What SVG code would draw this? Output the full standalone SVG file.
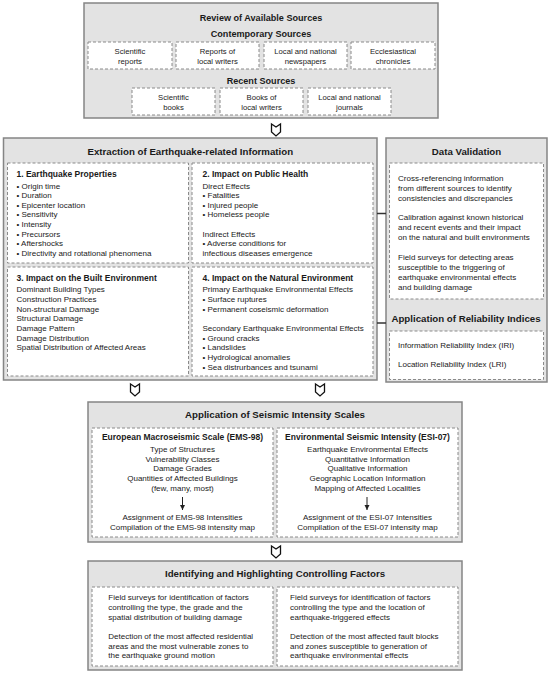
<svg xmlns="http://www.w3.org/2000/svg" width="550" height="674" viewBox="0 0 550 674">
<style>
.outer{fill:#e3e3e3;stroke:#858585;stroke-width:1.5}
.inner{fill:#ffffff;stroke:#8a8a8a;stroke-width:1;stroke-dasharray:3 2}
text{font-family:"Liberation Sans",Arial,sans-serif;fill:#1a1a1a}
.t{font-size:9.7px;font-weight:bold;text-anchor:middle}
.t9{font-size:9.1px;font-weight:bold;text-anchor:middle}
.h{font-size:8.5px;font-weight:bold}
.hc{font-size:8.5px;font-weight:bold;text-anchor:middle}
.b{font-size:8px}
.bc{font-size:8px;text-anchor:middle}
.s{font-size:7.7px;text-anchor:middle}
.conn{stroke:#333;stroke-width:1.5;fill:none}
.big{fill:#fff;stroke:#111;stroke-width:1.3;stroke-linejoin:miter}
</style>
<defs>
<path id="bigArrow" d="M-4.5,-6 L0,-3 L4.5,-6 L4.5,2 L0,6 L-4.5,2 Z"/>
<marker id="ah" markerWidth="6" markerHeight="6" refX="5" refY="3" orient="auto" markerUnits="userSpaceOnUse">
<path d="M0,0.5 L5,3 L0,5.5 Z" fill="#222"/>
</marker>
</defs>

<g id="review">
<rect class="outer" x="84" y="3" width="354" height="115"/>
<text class="t9" x="261" y="20.8">Review of Available Sources</text>
<text class="t9" x="261" y="37.4">Contemporary Sources</text>
<rect class="inner" x="88" y="42" width="84" height="27"/>
<rect class="inner" x="176" y="42" width="83" height="27"/>
<rect class="inner" x="264" y="42" width="83" height="27"/>
<rect class="inner" x="351" y="42" width="84" height="27"/>
<text class="s" x="130" y="53.8">Scientific</text><text class="s" x="130" y="63.8">reports</text>
<text class="s" x="217.5" y="53.8">Reports of</text><text class="s" x="217.5" y="63.8">local writers</text>
<text class="s" x="305.5" y="53.8">Local and national</text><text class="s" x="305.5" y="63.8">newspapers</text>
<text class="s" x="393" y="53.8">Ecclesiastical</text><text class="s" x="393" y="63.8">chronicles</text>
<text class="t9" x="261" y="84.4">Recent Sources</text>
<rect class="inner" x="132" y="88" width="83" height="27"/>
<rect class="inner" x="220" y="88" width="83" height="27"/>
<rect class="inner" x="308" y="88" width="83" height="27"/>
<text class="s" x="173.5" y="99.5">Scientific</text><text class="s" x="173.5" y="109.5">books</text>
<text class="s" x="261.5" y="99.5">Books of</text><text class="s" x="261.5" y="109.5">local writers</text>
<text class="s" x="349.5" y="99.5">Local and national</text><text class="s" x="349.5" y="109.5">journals</text>
</g>

<g id="extraction">
<rect class="outer" x="3.5" y="138" width="373.5" height="242"/>
<text class="t" x="190.3" y="154.8">Extraction of Earthquake-related Information</text>
<rect class="inner" x="7.5" y="163" width="181" height="100"/>
<rect class="inner" x="192" y="163" width="181" height="100"/>
<rect class="inner" x="7.5" y="267" width="181" height="109"/>
<rect class="inner" x="192" y="267" width="181" height="109"/>
<text class="h" x="16.5" y="177.3">1. Earthquake Properties</text>
<text class="b" x="16.5" y="188.5">• Origin time</text>
<text class="b" x="16.5" y="198.15">• Duration</text>
<text class="b" x="16.5" y="207.8">• Epicenter location</text>
<text class="b" x="16.5" y="217.45">• Sensitivity</text>
<text class="b" x="16.5" y="227.1">• Intensity</text>
<text class="b" x="16.5" y="236.75">• Precursors</text>
<text class="b" x="16.5" y="246.4">• Aftershocks</text>
<text class="b" x="16.5" y="256.05">• Directivity and rotational phenomena</text>
<text class="h" x="202.5" y="177.3">2. Impact on Public Health</text>
<text class="b" x="202.5" y="188.5">Direct Effects</text>
<text class="b" x="202.5" y="198.15">• Fatalities</text>
<text class="b" x="202.5" y="207.8">• Injured people</text>
<text class="b" x="202.5" y="217.45">• Homeless people</text>
<text class="b" x="202.5" y="236.75">Indirect Effects</text>
<text class="b" x="202.5" y="246.4">• Adverse conditions for</text>
<text class="b" x="202.5" y="256.05">infectious diseases emergence</text>
<text class="h" x="16.5" y="281.3">3. Impact on the Built Environment</text>
<text class="b" x="16.5" y="292.1">Dominant Building Types</text>
<text class="b" x="16.5" y="301.8">Construction Practices</text>
<text class="b" x="16.5" y="311.5">Non-structural Damage</text>
<text class="b" x="16.5" y="321.2">Structural Damage</text>
<text class="b" x="16.5" y="330.9">Damage Pattern</text>
<text class="b" x="16.5" y="340.6">Damage Distribution</text>
<text class="b" x="16.5" y="350.3">Spatial Distribution of Affected Areas</text>
<text class="h" x="202.5" y="281.3">4. Impact on the Natural Environment</text>
<text class="b" x="202.5" y="292.1">Primary Earthquake Environmental Effects</text>
<text class="b" x="202.5" y="301.8">• Surface ruptures</text>
<text class="b" x="202.5" y="311.5">• Permanent coseismic deformation</text>
<text class="b" x="202.5" y="330.9">Secondary Earthquake Environmental Effects</text>
<text class="b" x="202.5" y="340.6">• Ground cracks</text>
<text class="b" x="202.5" y="350.3">• Landslides</text>
<text class="b" x="202.5" y="360">• Hydrological anomalies</text>
<text class="b" x="202.5" y="369.7">• Sea distrurbances and tsunami</text>
</g>

<g id="validation">
<rect class="outer" x="386" y="138" width="161" height="244"/>
<text class="t" x="466.5" y="155.2">Data Validation</text>
<rect class="inner" x="389.5" y="163" width="154" height="136"/>
<text class="b" x="398" y="181.1">Cross-referencing information</text>
<text class="b" x="398" y="191">from different sources to identify</text>
<text class="b" x="398" y="200.9">consistencies and discrepancies</text>
<text class="b" x="398" y="220.2">Calibration against known historical</text>
<text class="b" x="398" y="230.1">and recent events and their impact</text>
<text class="b" x="398" y="240">on the natural and built environments</text>
<text class="b" x="398" y="260.2">Field surveys for detecting areas</text>
<text class="b" x="398" y="270.2">susceptible to the triggering of</text>
<text class="b" x="398" y="280.3">earthquake environmental effects</text>
<text class="b" x="398" y="290.3">and building damage</text>
<text class="t" x="466" y="321.8">Application of Reliability Indices</text>
<rect class="inner" x="389.5" y="331" width="154" height="48.5"/>
<text class="b" x="398" y="347.8">Information Reliability Index (IRI)</text>
<text class="b" x="398" y="366.8">Location Reliability Index (LRI)</text>
</g>

<g id="seismic">
<rect class="outer" x="88" y="402" width="374" height="140"/>
<text class="t" x="275" y="417.5">Application of Seismic Intensity Scales</text>
<rect class="inner" x="92" y="428" width="181" height="109"/>
<rect class="inner" x="277" y="428" width="181" height="109"/>
<text class="hc" x="182.5" y="440.3">European Macroseismic Scale (EMS-98)</text>
<text class="bc" x="182.5" y="451.8">Type of Structures</text>
<text class="bc" x="182.5" y="461.6">Vulnerability Classes</text>
<text class="bc" x="182.5" y="471.4">Damage Grades</text>
<text class="bc" x="182.5" y="481.2">Quantities of Affected Buildings</text>
<text class="bc" x="182.5" y="491">(few, many, most)</text>
<text class="bc" x="182.5" y="520.1">Assignment of EMS-98 Intensities</text>
<text class="bc" x="182.5" y="529.5">Compilation of the EMS-98 intensity map</text>
<text class="hc" x="367.5" y="440.3">Environmental Seismic Intensity (ESI-07)</text>
<text class="bc" x="367.5" y="451.8">Earthquake Environmental Effects</text>
<text class="bc" x="367.5" y="461.6">Quantitative Information</text>
<text class="bc" x="367.5" y="471.4">Qualitative Information</text>
<text class="bc" x="367.5" y="481.2">Geographic Location Information</text>
<text class="bc" x="367.5" y="491">Mapping of Affected Localities</text>
<text class="bc" x="367.5" y="520.1">Assignment of the ESI-07 Intensities</text>
<text class="bc" x="367.5" y="529.5">Compilation of the ESI-07 intensity map</text>
</g>

<g id="factors">
<rect class="outer" x="88" y="561" width="374" height="109"/>
<text class="t" x="275" y="576.8">Identifying and Highlighting Controlling Factors</text>
<rect class="inner" x="92" y="587" width="181" height="79"/>
<rect class="inner" x="277" y="587" width="181" height="79"/>
<text class="b" x="108.3" y="600.1">Field surveys for identification of factors</text>
<text class="b" x="108.3" y="609.8">controlling the type, the grade and the</text>
<text class="b" x="108.3" y="619.5">spatial distribution of building damage</text>
<text class="b" x="108.3" y="638.8">Detection of the most affected residential</text>
<text class="b" x="108.3" y="648.5">areas and the most vulnerable zones to</text>
<text class="b" x="108.3" y="658.1">the earthquake ground motion</text>
<text class="b" x="290" y="600.1">Field surveys for identification of factors</text>
<text class="b" x="290" y="609.8">controlling the type and the location of</text>
<text class="b" x="290" y="619.5">earthquake-triggered effects</text>
<text class="b" x="290" y="638.8">Detection of the most affected fault blocks</text>
<text class="b" x="290" y="648.5">and zones susceptible to generation of</text>
<text class="b" x="290" y="658.1">earthquake environmental effects</text>
</g>

<g id="connectors">
<use href="#bigArrow" class="big" x="276" y="130"/>
<use href="#bigArrow" class="big" x="135" y="390"/>
<use href="#bigArrow" class="big" x="320" y="390"/>
<use href="#bigArrow" class="big" x="276" y="552"/>
<line class="conn" x1="377" y1="213.5" x2="386" y2="213.5"/>
<line class="conn" x1="377" y1="323" x2="386" y2="323"/>
<line x1="182.5" y1="497" x2="182.5" y2="510" stroke="#222" stroke-width="1" marker-end="url(#ah)"/>
<line x1="367" y1="497" x2="367" y2="510" stroke="#222" stroke-width="1" marker-end="url(#ah)"/>
</g>
</svg>
